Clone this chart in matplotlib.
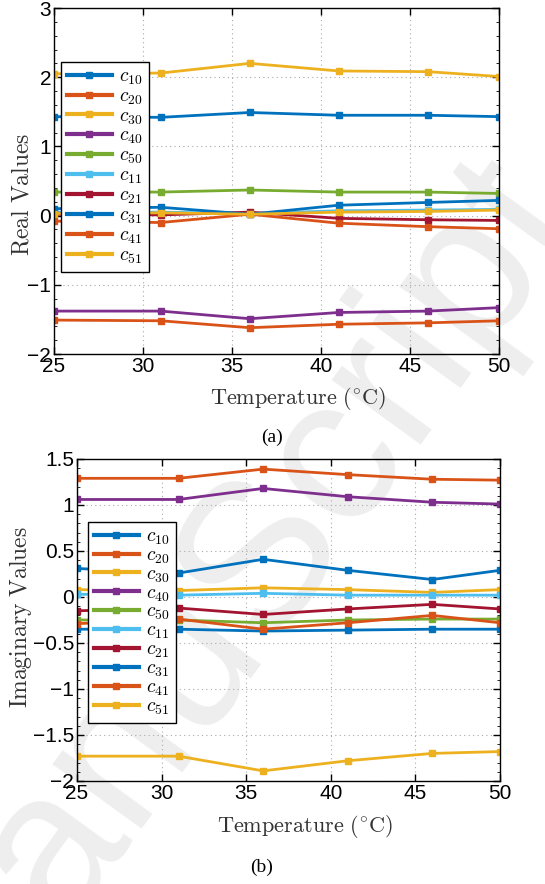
import matplotlib
matplotlib.use("Agg")
import matplotlib.pyplot as plt
from matplotlib.ticker import MultipleLocator, FuncFormatter

plt.rcParams['mathtext.fontset'] = 'cm'
plt.rcParams['font.family'] = ['Liberation Sans', 'DejaVu Sans']
plt.rcParams['axes.unicode_minus'] = True

temperature = [25, 31, 36, 41, 46, 50]
labels = [r'$c_{10}$', r'$c_{20}$', r'$c_{30}$', r'$c_{40}$', r'$c_{50}$',
          r'$c_{11}$', r'$c_{21}$', r'$c_{31}$', r'$c_{41}$', r'$c_{51}$']
colors = ['#0072BD', '#D95319', '#EDB120', '#7E2F8E', '#77AC30',
          '#4DBEEE', '#A2142F', '#0072BD', '#D95319', '#EDB120']

# Real parts
real_c10 = [1.43, 1.42, 1.49, 1.45, 1.45, 1.43]
real_c20 = [-1.51, -1.52, -1.62, -1.57, -1.55, -1.52]
real_c30 = [2.05, 2.06, 2.20, 2.09, 2.08, 2.01]
real_c40 = [-1.38, -1.38, -1.49, -1.40, -1.38, -1.33]
real_c50 = [0.34, 0.34, 0.37, 0.34, 0.34, 0.32]
real_c11 = [0.05, 0.05, 0.03, 0.07, 0.08, 0.09]
real_c21 = [0.02, 0.01, 0.05, -0.04, -0.06, -0.07]
real_c31 = [0.10, 0.12, 0.02, 0.15, 0.19, 0.22]
real_c41 = [-0.08, -0.10, 0.02, -0.11, -0.16, -0.19]
real_c51 = [0.03, 0.04, 0.02, 0.05, 0.06, 0.08]

# Imaginary parts
imag_c10 = [0.31, 0.26, 0.41, 0.29, 0.19, 0.29]
imag_c20 = [1.29, 1.29, 1.39, 1.33, 1.28, 1.27]
imag_c30 = [0.08, 0.07, 0.10, 0.08, 0.05, 0.08]
imag_c40 = [1.06, 1.06, 1.18, 1.09, 1.03, 1.01]
imag_c50 = [-0.25, -0.25, -0.28, -0.25, -0.24, -0.24]
imag_c11 = [0.03, 0.02, 0.04, 0.02, 0.02, 0.02]
imag_c21 = [-0.15, -0.12, -0.19, -0.13, -0.08, -0.13]
imag_c31 = [-0.35, -0.35, -0.37, -0.36, -0.35, -0.35]
imag_c41 = [-0.29, -0.24, -0.35, -0.28, -0.20, -0.28]
imag_c51 = [-1.73, -1.73, -1.89, -1.78, -1.70, -1.68]

real_series = [real_c10, real_c20, real_c30, real_c40, real_c50,
               real_c11, real_c21, real_c31, real_c41, real_c51]
imag_series = [imag_c10, imag_c20, imag_c30, imag_c40, imag_c50,
               imag_c11, imag_c21, imag_c31, imag_c41, imag_c51]

W, H = 545, 884
fig = plt.figure(figsize=(W / 100, H / 100), dpi=100)

# watermark
fig.text(0.41, 0.32, 'ManuScript', rotation=54, fontsize=150, color='#eeeeee',
         ha='center', va='center', zorder=-10, family='Liberation Sans')


def make_axes(l, t, r, b):
    return fig.add_axes([l / W, 1 - b / H, (r - l) / W, (b - t) / H])


ax1 = make_axes(54, 8, 499, 354)
ax2 = make_axes(77, 459, 500, 781)

fmt = FuncFormatter(lambda v, p: ('%g' % round(v, 6)).replace('-', '\u2212'))


def style(ax, series, ylim, ymajor, yminor, ylabel, lab_xy, xlab_xy, leg_anchor, leg_sp):
    ax.set_facecolor('none')
    for s, c, lb in zip(series, colors, labels):
        ax.plot(temperature, s, color=c, lw=2.0, marker='s', ms=4.6,
                mec=c, mfc=c, label=lb)
    ax.set_xlim(25, 50)
    ax.set_ylim(*ylim)
    ax.xaxis.set_major_locator(MultipleLocator(5))
    ax.yaxis.set_major_locator(MultipleLocator(ymajor))
    ax.yaxis.set_minor_locator(MultipleLocator(yminor))
    ax.yaxis.set_major_formatter(fmt)
    ax.xaxis.set_major_formatter(fmt)
    ax.grid(True, which='major', linestyle=(0, (1, 3)), color='#aaaaaa', lw=0.8)
    ax.tick_params(which='major', direction='in', length=5, width=1.0,
                   top=True, right=True, labelsize=15, pad=2, colors='black')
    ax.tick_params(which='minor', direction='in', length=2.5, width=0.6,
                   left=True, right=True)
    for sp in ax.spines.values():
        sp.set_linewidth(1.0)
    ax.set_xlabel(r'$\mathrm{Temperature\ (^{\circ}C)}$', fontsize=16,
                  color='#333333')
    ax.xaxis.set_label_coords(*xlab_xy)
    ax.set_ylabel(ylabel, fontsize=17, color='#333333')
    ax.yaxis.set_label_coords(*lab_xy)
    leg = ax.legend(loc='upper left', bbox_to_anchor=leg_anchor, frameon=True,
                    fancybox=False, edgecolor='black', framealpha=1,
                    fontsize=14, handlelength=2.3, handletextpad=0.4,
                    labelspacing=leg_sp, borderpad=0.3, borderaxespad=0)
    leg.get_frame().set_linewidth(1.0)
    for h in leg.get_lines():
        h.set_linewidth(3.0)
        h.set_markersize(4.5)
    return leg


style(ax1, real_series, (-2, 3), 1, 0.2, r'$\mathrm{Real\ Values}$',
      (-0.045, 0.46), (0.548, -0.09), ((61 - 54) / 445, (354 - 62) / 346), 0.05)
style(ax2, imag_series, (-2, 1.5), 0.5, 0.1, r'$\mathrm{Imaginary\ Values}$',
      (-0.101, 0.51), (0.539, -0.099), ((88 - 77) / 423, (781 - 522) / 322), 0.0)

fig.text(272 / W, 1 - 437 / H, '(a)', ha='center', va='center', fontsize=14,
         family='Liberation Serif')
fig.text(262 / W, 1 - 867 / H, '(b)', ha='center', va='center', fontsize=14,
         family='Liberation Serif')

fig.savefig('out.png', dpi=100)
